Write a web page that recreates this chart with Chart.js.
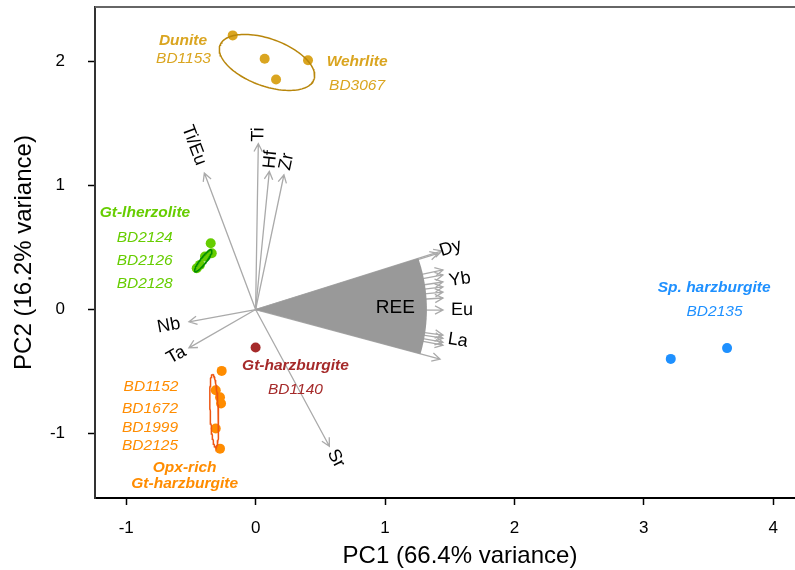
<!DOCTYPE html>
<html>
<head>
<meta charset="utf-8">
<script src="https://cdn.jsdelivr.net/npm/chart.js@4.4.1/dist/chart.umd.min.js"></script>
<style>
  html, body { margin: 0; padding: 0; background: #ffffff; }
  canvas { display: block; }
</style>
</head>
<body>
<canvas id="pca" width="795" height="570"></canvas>
<script>
// ---- Sample scores on PC1 / PC2 ----
const duniteWehrlitePC1 = [-0.177, 0.070, 0.405, 0.158];
const duniteWehrlitePC2 = [2.211, 2.023, 2.011, 1.855];
const gtLherzolitePC1 = [-0.347, -0.339, -0.391, -0.430, -0.455];
const gtLherzolitePC2 = [0.535, 0.454, 0.427, 0.360, 0.333];
const opxRichPC1 = [-0.262, -0.308, -0.275, -0.267, -0.308, -0.275];
const opxRichPC2 = [-0.495, -0.651, -0.707, -0.758, -0.960, -1.122];
const gtHarzburgitePC1 = [0.000];
const gtHarzburgitePC2 = [-0.306];
const spHarzburgitePC1 = [3.208, 3.643];
const spHarzburgitePC2 = [-0.398, -0.311];

// ---- Variable loadings ----
const traceNames = ['Ti', 'Hf', 'Zr', 'Ti/Eu', 'Nb', 'Ta', 'Sr'];
const tracePC1 = [0.021, 0.106, 0.219, -0.396, -0.515, -0.515, 0.570];
const tracePC2 = [1.338, 1.114, 1.087, 1.101, -0.099, -0.309, -1.103];
const reeNames = ['Dy', 'Ho', 'Er', 'Tm', 'Yb', 'Lu', 'Tb', 'Gd', 'Eu', 'Sm', 'La', 'Ce', 'Pr', 'Nd'];
const reePC1 = [1.440, 1.410, 1.448, 1.448, 1.448, 1.448, 1.448, 1.448, 1.448, 1.448, 1.448, 1.448, 1.448, 1.425];
const reePC2 = [0.473, 0.453, 0.319, 0.279, 0.222, 0.182, 0.141, 0.093, -0.004, -0.206, -0.231, -0.263, -0.287, -0.400];
const reeLabelled = ['Dy', 'Yb', 'Eu', 'La'];

// ---- Group ellipses: centre and half-axis vectors (PC units) ----
const ellipseCentreX = [0.088, -0.404, -0.320];
const ellipseCentreY = [1.993, 0.394, -0.817];
const ellipseMajorX = [0.363, 0.0645, -0.012];
const ellipseMajorY = [-0.138, 0.0877, 0.295];
const ellipseMinorX = [-0.0624, 0.0184, 0.032];
const ellipseMinorY = [-0.179, -0.0148, 0.001];

// ---- Axis ticks ----
const xTicks = [-1, 0, 1, 2, 3, 4];
const yTicks = [-1, 0, 1, 2];

const FONT = "'Liberation Sans', Arial, Helvetica, sans-serif";
const GOLD = '#DAA520', GREEN = '#66CD00', ORANGE = '#FF8C00', BROWN = '#A52A2A', BLUE = '#1E90FF';
const ARROW = '#aaaaaa';

function pts(xs, ys) { return xs.map((v, i) => ({ x: v, y: ys[i] })); }

function ellipsePts(i) {
  const out = [];
  for (let k = 0; k <= 120; k++) {
    const t = (k / 120) * Math.PI * 2;
    out.push({
      x: ellipseCentreX[i] + ellipseMajorX[i] * Math.cos(t) + ellipseMinorX[i] * Math.sin(t),
      y: ellipseCentreY[i] + ellipseMajorY[i] * Math.cos(t) + ellipseMinorY[i] * Math.sin(t)
    });
  }
  return out;
}

function ellipseSet(i, color) {
  return { data: ellipsePts(i), showLine: true, pointRadius: 0, borderColor: color,
           borderWidth: 1.5, tension: 0, fill: false };
}
function pointSet(xs, ys, color) {
  return { data: pts(xs, ys), showLine: false, pointRadius: 5, pointHoverRadius: 5,
           backgroundColor: color, borderColor: color, borderWidth: 0 };
}

// Text notes for the sample groups, anchored in PC coordinates
const notes = [
  ['Dunite', -0.561, 2.171, GOLD, true], ['BD1153', -0.557, 2.021, GOLD, false],
  ['Wehrlite', 0.784, 2.001, GOLD, true], ['BD3067', 0.784, 1.807, GOLD, false],
  ['Gt-lherzolite', -0.855, 0.780, GREEN, true], ['BD2124', -0.857, 0.582, GREEN, false],
  ['BD2126', -0.857, 0.392, GREEN, false], ['BD2128', -0.857, 0.206, GREEN, false],
  ['Gt-harzburgite', 0.308, -0.457, BROWN, true], ['BD1140', 0.308, -0.643, BROWN, false],
  ['BD1152', -0.808, -0.622, ORANGE, false], ['BD1672', -0.816, -0.796, ORANGE, false],
  ['BD1999', -0.816, -0.950, ORANGE, false], ['BD2125', -0.816, -1.100, ORANGE, false],
  ['Opx-rich', -0.548, -1.277, ORANGE, true], ['Gt-harzburgite', -0.548, -1.407, ORANGE, true],
  ['Sp. harzburgite', 3.543, 0.174, BLUE, true], ['BD2135', 3.546, -0.020, BLUE, false]
];
// extra spacing between arrow tip and its label (px)
const labelGap = { 'Ti': 2, 'Hf': 3, 'Zr': 5, 'Ti/Eu': 9, 'Nb': 9, 'Ta': 5, 'Sr': 5,
                   'Dy': -2, 'Yb': 6, 'Eu': 8, 'La': 5 };

function drawArrow(ctx, x0, y0, x1, y1) {
  const a = Math.atan2(y1 - y0, x1 - x0), L = 9, h = Math.PI / 6.5;
  ctx.beginPath();
  ctx.moveTo(x0, y0); ctx.lineTo(x1, y1);
  ctx.moveTo(x1 - L * Math.cos(a - h), y1 - L * Math.sin(a - h));
  ctx.lineTo(x1, y1);
  ctx.lineTo(x1 - L * Math.cos(a + h), y1 - L * Math.sin(a + h));
  ctx.stroke();
}

function drawVarLabel(ctx, name, tx, ty, ox, oy) {
  const a = Math.atan2(ty - oy, tx - ox);
  const w = ctx.measureText(name).width;
  const d = w / 2 + (labelGap[name] || 4);
  const cx = tx + Math.cos(a) * d, cy = ty + Math.sin(a) * d;
  let r = a;
  if (r > Math.PI / 2) r -= Math.PI;
  if (r < -Math.PI / 2) r += Math.PI;
  ctx.save();
  ctx.translate(cx, cy); ctx.rotate(r);
  ctx.fillText(name, 0, 0);
  ctx.restore();
}

const biplotLayer = {
  id: 'biplotLayer',
  beforeDatasetsDraw(chart) {
    const { ctx, chartArea: ca, scales: { x, y } } = chart;
    const ox = x.getPixelForValue(0), oy = y.getPixelForValue(0);
    ctx.save();
    ctx.beginPath(); ctx.rect(ca.left, ca.top, ca.right - ca.left, ca.bottom - ca.top); ctx.clip();
    ctx.strokeStyle = ARROW; ctx.lineWidth = 1.3; ctx.lineJoin = 'miter';
    traceNames.forEach((n, i) => drawArrow(ctx, ox, oy, x.getPixelForValue(tracePC1[i]), y.getPixelForValue(tracePC2[i])));
    reeNames.forEach((n, i) => drawArrow(ctx, ox, oy, x.getPixelForValue(reePC1[i]), y.getPixelForValue(reePC2[i])));

    // REE fan spanning the angular range of the REE loadings
    const ang = reeNames.map((n, i) => Math.atan2(reePC2[i], reePC1[i]));
    const len = reeNames.map((n, i) => Math.hypot(reePC1[i], reePC2[i]));
    const rad = 0.9 * len.reduce((s, v) => s + v, 0) / len.length;
    const aMin = Math.min(...ang), aMax = Math.max(...ang);
    ctx.beginPath(); ctx.moveTo(ox, oy);
    for (let k = 0; k <= 60; k++) {
      const t = aMax + (aMin - aMax) * k / 60;
      ctx.lineTo(x.getPixelForValue(rad * Math.cos(t)), y.getPixelForValue(rad * Math.sin(t)));
    }
    ctx.closePath();
    ctx.fillStyle = '#999999'; ctx.fill();

    // variable labels
    ctx.fillStyle = '#000000'; ctx.textAlign = 'center'; ctx.textBaseline = 'middle';
    ctx.font = '19px ' + FONT;
    ctx.fillText('REE', x.getPixelForValue(1.080), y.getPixelForValue(0.016));
    ctx.font = '18px ' + FONT;
    traceNames.forEach((n, i) => drawVarLabel(ctx, n, x.getPixelForValue(tracePC1[i]), y.getPixelForValue(tracePC2[i]), ox, oy));
    reeNames.forEach((n, i) => {
      if (reeLabelled.includes(n)) drawVarLabel(ctx, n, x.getPixelForValue(reePC1[i]), y.getPixelForValue(reePC2[i]), ox, oy);
    });
    ctx.restore();
  },
  afterDatasetsDraw(chart) {
    const { ctx, chartArea: ca, scales: { x, y } } = chart;
    ctx.save();
    ctx.textAlign = 'center'; ctx.textBaseline = 'middle';
    notes.forEach(([t, px, py, c, bold]) => {
      ctx.font = (bold ? 'italic bold ' : 'italic ') + '15.5px ' + FONT;
      ctx.fillStyle = c;
      ctx.fillText(t, x.getPixelForValue(px), y.getPixelForValue(py));
    });
    // frame top edge
    ctx.strokeStyle = '#666666'; ctx.lineWidth = 2;
    ctx.beginPath(); ctx.moveTo(ca.left, ca.top); ctx.lineTo(ca.right, ca.top); ctx.stroke();
    ctx.restore();
  },
  afterDraw(chart) {
    // PC1 axis title, centred on the full plotting region (which runs past the right edge)
    const { ctx, chartArea: ca } = chart;
    ctx.save();
    ctx.fillStyle = '#000000'; ctx.textAlign = 'center'; ctx.textBaseline = 'middle';
    ctx.font = '24px ' + FONT;
    ctx.fillText('PC1 (66.4% variance)', (ca.left + ca.right + 30) / 2, 556);
    ctx.restore();
  }
};

function noPadding(s) {
  s.paddingTop = 0; s.paddingBottom = 0; s.paddingLeft = 0; s.paddingRight = 0;
}

const datasets = [
  ellipseSet(0, '#B8860B'),
  ellipseSet(1, '#008B00'),
  ellipseSet(2, '#EE5511'),
  pointSet(duniteWehrlitePC1, duniteWehrlitePC2, GOLD),
  pointSet(gtLherzolitePC1, gtLherzolitePC2, GREEN),
  pointSet(opxRichPC1, opxRichPC2, ORANGE),
  pointSet(gtHarzburgitePC1, gtHarzburgitePC2, BROWN),
  pointSet(spHarzburgitePC1, spHarzburgitePC2, BLUE)
];

new Chart(document.getElementById('pca'), {
  type: 'scatter',
  data: { datasets },
  options: {
    responsive: false, animation: false, devicePixelRatio: 1,
    layout: { autoPadding: false, padding: { top: 7, right: 0, bottom: 0, left: 0 } },
    plugins: { legend: { display: false }, tooltip: { enabled: false } },
    scales: {
      x: {
        type: 'linear', min: -1.241, max: 4.168,
        afterBuildTicks(s) { s.ticks = xTicks.map(v => ({ value: v })); },
        afterFit(s) { s.height = 72; noPadding(s); },
        ticks: { font: { family: FONT, size: 17 }, color: '#000', padding: 13, maxRotation: 0 },
        grid: { drawOnChartArea: false, drawTicks: true, tickLength: 7, tickColor: '#000', tickWidth: 1.5 },
        border: { display: true, color: '#000', width: 2 },
        title: { display: false }
      },
      y: {
        type: 'linear', min: -1.52, max: 2.44,
        afterBuildTicks(s) { s.ticks = yTicks.map(v => ({ value: v })); },
        afterFit(s) { s.width = 95; noPadding(s); },
        ticks: { font: { family: FONT, size: 17 }, color: '#000', padding: 23 },
        grid: { drawOnChartArea: false, drawTicks: true, tickLength: 7, tickColor: '#000', tickWidth: 1.5 },
        border: { display: true, color: '#333', width: 2 },
        title: { display: true, text: 'PC2 (16.2% variance)', color: '#000',
                 font: { family: FONT, size: 24 }, padding: { top: 10, bottom: 0 } }
      }
    }
  },
  plugins: [biplotLayer]
});
</script>
</body>
</html>
